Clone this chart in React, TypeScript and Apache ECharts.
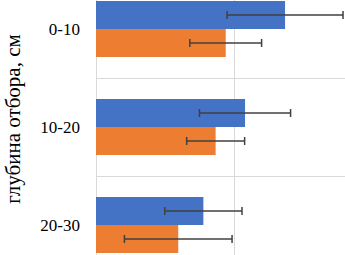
import React, { useEffect, useRef } from "react";
import * as echarts from "echarts";

const categories = ["0-10", "10-20", "20-30"];
const seriesA = [1.37, 1.08, 0.778];
const errorsA = [0.42, 0.33, 0.28];
const seriesB = [0.94, 0.867, 0.596];
const errorsB = [0.26, 0.21, 0.39];
const yTitle = "глубина отбора, см";

const BLUE = "#4472C4";
const ORANGE = "#ED7D31";
const GRID = "#d9d9d9";
const ERR = "#404040";
const FONT = "serif";

const OFF_TOP = 20;
const OFF_RIGHT = 27;
const OFF_BOTTOM = 19;

function errorSeries(values: number[], errs: number[], side: number) {
  return {
    type: "custom",
    silent: true,
    z: 10,
    data: values.map((v, i) => [v, i, errs[i]]),
    renderItem: (params: any, api: any) => {
      const v = api.value(0);
      const idx = api.value(1);
      const e = api.value(2);
      const c = api.coord([v, idx]);
      const bandH = api.size([0, 1])[1];
      const barW = (bandH * 0.57) / 2;
      const y = c[1] + side * (barW / 2);
      const x1 = api.coord([v - e, idx])[0];
      const x2 = api.coord([v + e, idx])[0];
      const cap = 4;
      const style = { stroke: ERR, lineWidth: 1.5 };
      return {
        type: "group",
        children: [
          { type: "line", shape: { x1, y1: y, x2, y2: y }, style },
          { type: "line", shape: { x1, y1: y - cap, x2: x1, y2: y + cap }, style },
          { type: "line", shape: { x1: x2, y1: y - cap, x2, y2: y + cap }, style },
        ],
      };
    },
  };
}

export default function App() {
  const ref = useRef<HTMLDivElement>(null);
  useEffect(() => {
    if (!ref.current) return;
    const chart = echarts.init(ref.current, null, { renderer: "svg" });
    chart.setOption({
      animation: false,
      textStyle: { fontFamily: FONT },
      grid: { left: 96, right: 0, top: 0, bottom: 0, containLabel: false },
      xAxis: {
        type: "value",
        min: 0,
        max: 2,
        interval: 1,
        axisLabel: { show: false },
        axisLine: { show: false },
        axisTick: { show: false },
        splitLine: { show: true, lineStyle: { color: GRID, width: 1 } },
      },
      yAxis: {
        type: "category",
        inverse: true,
        data: categories,
        axisLine: { show: true, lineStyle: { color: GRID, width: 1 } },
        axisTick: { show: false },
        splitLine: { show: true, lineStyle: { color: GRID, width: 1 } },
        axisLabel: {
          color: "#000",
          fontSize: 17,
          fontFamily: FONT,
          margin: 16,
        },
      },
      graphic: [
        {
          type: "text",
          x: 13,
          y: 119 + OFF_TOP,
          rotation: Math.PI / 2,
          style: {
            text: yTitle,
            fontSize: 21,
            fontFamily: FONT,
            fill: "#000",
            align: "center",
            verticalAlign: "middle",
          },
        },
      ],
      series: [
        {
          type: "bar",
          data: seriesA,
          barGap: "0%",
          barCategoryGap: "43%",
          itemStyle: { color: BLUE },
        },
        {
          type: "bar",
          data: seriesB,
          barGap: "0%",
          barCategoryGap: "43%",
          itemStyle: { color: ORANGE },
        },
        errorSeries(seriesA, errorsA, -1),
        errorSeries(seriesB, errorsB, 1),
      ],
    });
    return () => chart.dispose();
  }, []);
  return (
    <div style={{ width: 345, height: 255, position: "absolute", left: 0, top: 0, overflow: "hidden" }}>
      <div
        ref={ref}
        style={{
          width: 345 + OFF_RIGHT,
          height: 255 + OFF_TOP + OFF_BOTTOM,
          position: "absolute",
          left: 0,
          top: -OFF_TOP,
        }}
      />
    </div>
  );
}
